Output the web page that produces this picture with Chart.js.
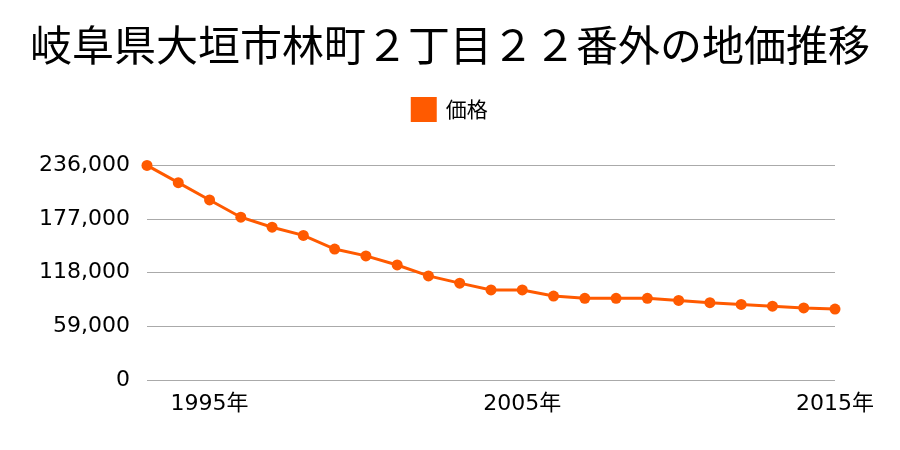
<!DOCTYPE html>
<html>
<head>
<meta charset="utf-8">
<script src="https://cdn.jsdelivr.net/npm/chart.js@4/dist/chart.umd.min.js"></script>
<style>
  html, body { margin: 0; padding: 0; background: #fff; }
  #wrap { width: 900px; height: 450px; }
</style>
</head>
<body>
<div id="wrap"><canvas id="grafico"></canvas></div>
<script>
const titulo = '岐阜県大垣市林町２丁目２２番外の地価推移';
const nomeSerie = '価格';
const anos = ['1993', '1994', '1995', '1996', '1997', '1998', '1999', '2000',
    '2001', '2002', '2003', '2004', '2005', '2006', '2007', '2008',
    '2009', '2010', '2011', '2012', '2013', '2014', '2015'];
const precos = [236000, 217000, 198000, 179000, 168000, 159000, 144000, 136500,
    126500, 114500, 106500, 99000, 99000, 92300, 89800, 89800,
    89800, 87500, 85000, 83100, 81200, 79200, 78000];
const anosMarcados = ['1995', '2005', '2015'];
const valoresEixo = [0, 59000, 118000, 177000, 236000];

const corLaranja = '#ff5a00';
const fonteTitulo = "'Noto Sans CJK JP', sans-serif";
const fonteEixos = "'DejaVu Sans', 'Noto Sans CJK JP', sans-serif";

Chart.defaults.font.family = fonteTitulo;
Chart.defaults.color = '#000';

// eixos vazios so para reservar espaco (acima da area e a direita)
const eixoVazio = {
    display: true,
    grid: { display: false, drawTicks: false },
    border: { display: false },
    ticks: { display: false }
};

new Chart(document.getElementById('grafico').getContext('2d'), {
    type: 'line',
    data: {
        labels: anos,
        datasets: [{
            label: nomeSerie,
            data: precos,
            borderColor: corLaranja,
            backgroundColor: corLaranja,
            borderWidth: 3,
            pointRadius: 5.5,
            pointBorderWidth: 0,
            pointBackgroundColor: corLaranja,
            tension: 0,
            clip: false
        }]
    },
    options: {
        responsive: true,
        maintainAspectRatio: false,
        animation: false,
        layout: {
            padding: { left: 0, right: 0, top: 0, bottom: 16 }
        },
        plugins: {
            title: {
                display: true,
                text: titulo,
                font: { size: 42, weight: 'normal' },
                padding: { top: 20, bottom: 14 }
            },
            legend: {
                display: true,
                labels: {
                    boxWidth: 23,
                    boxHeight: 22,
                    font: { size: 21 },
                    padding: 14
                }
            },
            tooltip: { enabled: false }
        },
        scales: {
            x: {
                offset: false,
                grid: { display: false, drawTicks: false },
                border: { display: false },
                ticks: {
                    autoSkip: false,
                    maxRotation: 0,
                    padding: 11,
                    font: { size: 22, family: fonteEixos },
                    callback: function (valor, i) {
                        const ano = anos[i];
                        return anosMarcados.includes(ano) ? ano + '年' : '';
                    }
                },
                afterFit: function (eixo) { eixo.height = 54; }
            },
            xTopo: {
                ...eixoVazio,
                type: 'category',
                position: 'top',
                afterFit: function (eixo) { eixo.height = 35; }
            },
            y: {
                min: 0,
                max: 236000,
                grid: { color: '#aaaaaa', lineWidth: 1, drawTicks: false },
                border: { display: false },
                afterBuildTicks: function (eixo) {
                    eixo.ticks = valoresEixo.map(v => ({ value: v }));
                },
                ticks: {
                    padding: 17,
                    font: { size: 22, family: fonteEixos },
                    callback: v => v.toLocaleString('en-US')
                },
                afterFit: function (eixo) { eixo.width = 147; }
            },
            yDireita: {
                ...eixoVazio,
                type: 'linear',
                position: 'right',
                afterFit: function (eixo) { eixo.width = 65; }
            }
        }
    }
});
</script>
</body>
</html>
